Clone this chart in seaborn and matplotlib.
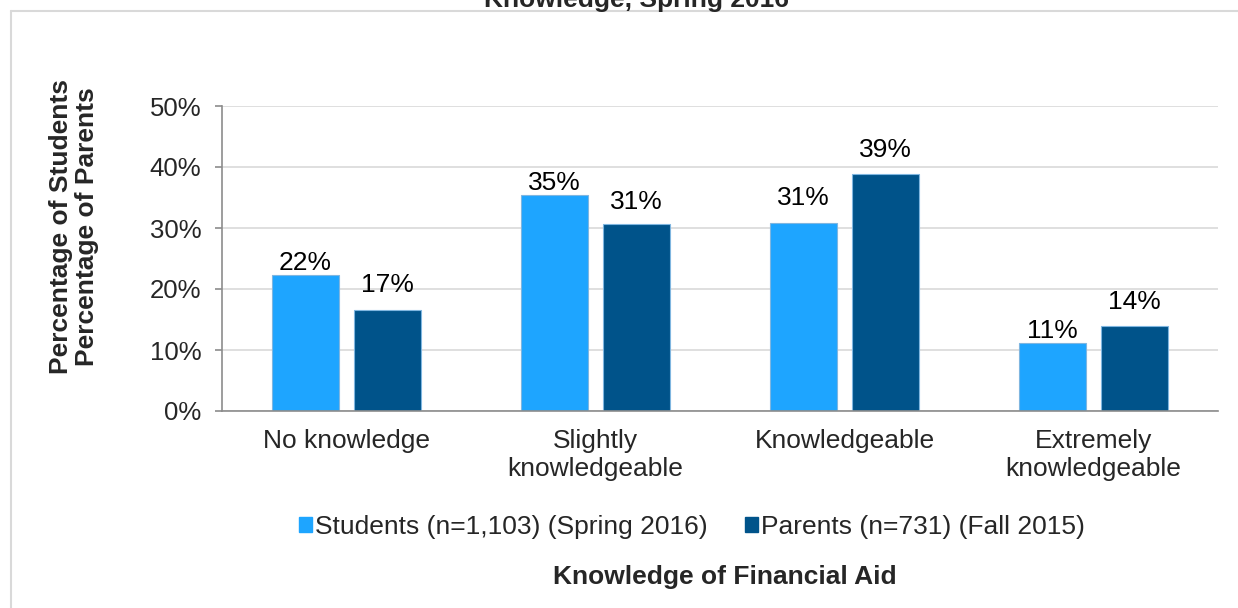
import matplotlib
matplotlib.use("Agg")
import matplotlib.pyplot as plt
from matplotlib.lines import Line2D
from matplotlib.patches import Patch
import seaborn as sns
import pandas as pd

categories = ["No knowledge", "Slightly\nknowledgeable", "Knowledgeable", "Extremely\nknowledgeable"]
series_names = ["Students (n=1,103) (Spring 2016)", "Parents (n=731) (Fall 2015)"]
students = [22.3, 35.4, 30.8, 11.1]
parents = [16.6, 30.6, 38.9, 13.9]
y_ticks = [0, 10, 20, 30, 40, 50]
title_text = "Knowledge, Spring 2016"
y_label = "Percentage of Students\nPercentage of Parents"
x_label = "Knowledge of Financial Aid"

colors = ["#1EA5FF", "#00538A"]
label_pads = [[0, 0, 9.5, 0], [9, 7.5, 8.5, 9]]
FS = 19

sns.set_style("white")
plt.rcParams["font.family"] = ["Liberation Sans", "DejaVu Sans"]

df = pd.DataFrame({
    "category": categories * 2,
    "value": students + parents,
    "series": [series_names[0]] * 4 + [series_names[1]] * 4,
})

W, H = 1238, 608
fig = plt.figure(figsize=(W / 100, H / 100), dpi=100)
ax = fig.add_axes([222 / W, 1 - 411 / H, 996 / W, 305 / H])

sns.barplot(data=df, x="category", y="value", hue="series", order=categories,
            hue_order=series_names, palette=colors, width=0.66, gap=0.19,
            ax=ax, legend=False, edgecolor="#7FB6E0", linewidth=0.8, errorbar=None,
            saturation=1)

ax.set_ylim(0, 50)
ax.set_xlim(-0.5, 3.5)
ax.set_yticks(y_ticks)
ax.set_yticklabels([f"{t}%" for t in y_ticks])
ax.yaxis.grid(True, color="#D9D9D9", linewidth=1.2)
ax.set_axisbelow(True)
for s in ["top", "right"]:
    ax.spines[s].set_visible(False)
for s in ["left", "bottom"]:
    ax.spines[s].set_color("#8C8C8C")
    ax.spines[s].set_linewidth(1.2)
ax.tick_params(axis="y", which="major", length=5, width=1.2, color="#8C8C8C",
               pad=10, labelsize=18.5, left=True)
ax.tick_params(axis="x", length=0, pad=13, labelsize=FS)
ax.set_xlabel("")
ax.set_ylabel("")

for ci, cont in enumerate(ax.containers):
    for bi, bar in enumerate(cont):
        h = bar.get_height()
        ax.annotate(f"{round(h)}%", xy=(bar.get_x() + bar.get_width() / 2, h),
                    xytext=(0, label_pads[ci][bi]), textcoords="offset points",
                    ha="center", va="bottom", fontsize=FS, color="#000000")

handles = [Patch(facecolor=c, edgecolor=c) for c in colors]
fig.legend(handles, series_names, loc="center", bbox_to_anchor=(692 / W, 1 - 527 / H),
           ncol=2, frameon=False, fontsize=FS, handlelength=0.5, handleheight=0.5,
           handletextpad=0.12, columnspacing=1.4)

fig.text(725 / W, 1 - 577 / H, x_label, ha="center", va="center", fontsize=FS,
         fontweight="bold")
fig.text(74 / W, 1 - 227 / H, y_label, ha="center", va="center", rotation=90,
         fontsize=FS, fontweight="bold", multialignment="center", linespacing=1.15)
fig.text(637 / W, 1 - 7 / H, title_text, ha="center", va="baseline", fontsize=FS,
         fontweight="bold")

frame_color = "#D9D9D9"
fig.add_artist(Line2D([11 / W, 1], [1 - 11 / H, 1 - 11 / H], transform=fig.transFigure,
                      color=frame_color, linewidth=1.5))
fig.add_artist(Line2D([11 / W, 11 / W], [0, 1 - 11 / H], transform=fig.transFigure,
                      color=frame_color, linewidth=1.5))

fig.savefig("out.png", dpi=100)
